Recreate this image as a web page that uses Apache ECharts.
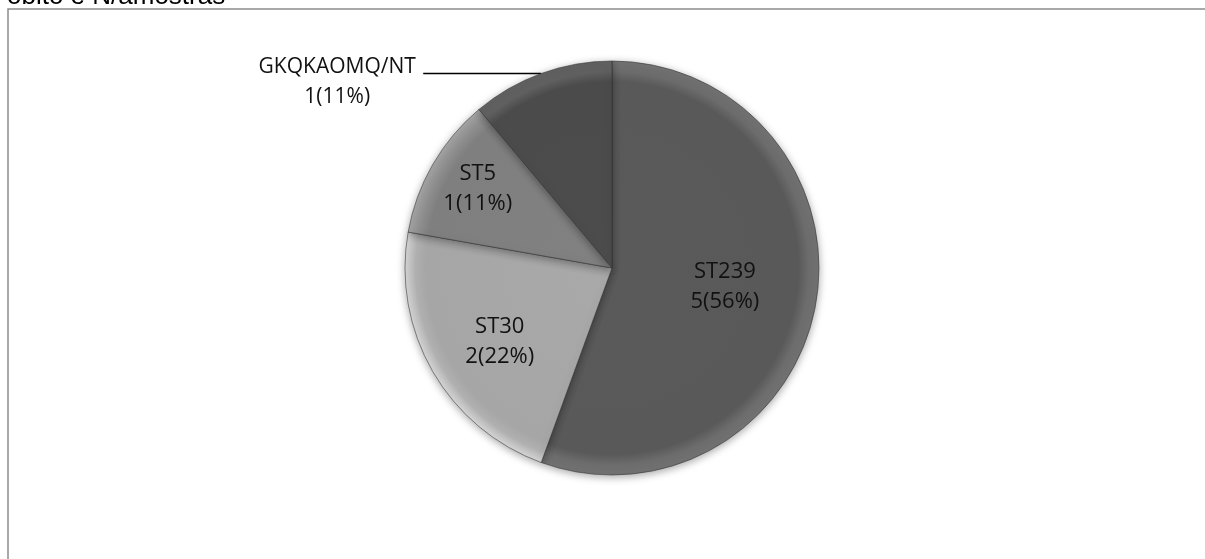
<!DOCTYPE html>
<html>
<head>
<meta charset="utf-8">
<script src="https://cdn.jsdelivr.net/npm/echarts@6/dist/echarts.min.js"></script>
<style>
  html, body { margin: 0; padding: 0; background: #fff; }
  #chart { width: 1205px; height: 559px; }
</style>
</head>
<body>
<div id="chart"></div>
<script>
// Sequence types and number of isolates
const categories = ['ST239', 'ST30', 'ST5', 'GKQKAOMQ/NT'];
const counts = [5, 2, 1, 1];
const titleText = 'óbito e N/amostras';

// Slice fills (grey ramp) and label nudges, kept apart from the data
const sliceColors = ['#595959', '#a6a6a6', '#7f7f7f', '#4b4b4b'];
const labelNudge = [[8, 0], [-20, 20], [-42, -26], [0, 9]];

const chart = echarts.init(document.getElementById('chart'), null, { renderer: 'canvas' });

const cx = 612, cy = 268, R = 207;

function fillFor(base) {
  // darken slightly toward the rim for a bevelled look
  const c = echarts.color;
  return {
    type: 'radial', x: cx, y: cy, r: R, global: true,
    colorStops: [
      { offset: 0, color: c.lift(base, -0.02) },
      { offset: 0.9, color: base },
      { offset: 0.95, color: c.lift(base, 0.12) },
      { offset: 1, color: c.lift(base, -0.3) }
    ]
  };
}

const data = categories.map((name, i) => ({
  name: name,
  value: counts[i],
  itemStyle: { color: fillFor(sliceColors[i]) },
  label: i === 3
    ? { position: 'outside', formatter: '{c|{b}}\n{c|{c}({d}%)}' }
    : { position: 'inside' },
  labelLine: { show: i === 3 }
}));

chart.setOption({
  animation: false,
  graphic: [{
    // chart frame, open to the right and bottom
    type: 'rect',
    shape: { x: 8, y: 9, width: 1240, height: 600 },
    style: { fill: 'none', stroke: '#8c8c8c', lineWidth: 1.5 },
    silent: true,
    z: -1
  }, {
    // heading line, mostly above the top edge
    type: 'text',
    x: 7,
    y: 10,
    style: {
      text: titleText,
      font: '26px "Liberation Sans"',
      fill: '#000',
      verticalAlign: 'bottom'
    },
    silent: true
  }],
  series: [{
    type: 'pie',
    center: [cx, cy],
    radius: R,
    startAngle: 90,
    clockwise: true,
    percentPrecision: 0,
    data: data,
    itemStyle: {
      borderColor: 'rgba(50,50,50,0.55)',
      borderWidth: 1,
      shadowBlur: 8,
      shadowColor: 'rgba(0,0,0,0.35)',
      shadowOffsetY: 2
    },
    label: {
      formatter: '{b}\n{c}({d}%)',
      fontFamily: 'Open Sans',
      fontSize: 22,
      lineHeight: 30,
      color: '#111',
      rich: {
        c: { width: 162, align: 'center', fontFamily: 'Open Sans', fontSize: 21, lineHeight: 30, color: '#111' }
      }
    },
    labelLine: {
      length: 0,
      length2: 118,
      lineStyle: { color: '#000', width: 1.5 }
    },
    emphasis: { disabled: true },
    labelLayout: function (p) {
      const n = labelNudge[p.dataIndex];
      return { dx: n[0], dy: n[1] };
    }
  }]
});
</script>
</body>
</html>
